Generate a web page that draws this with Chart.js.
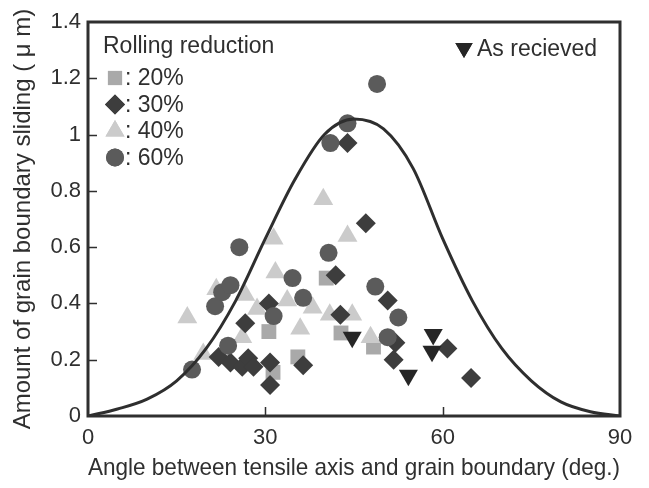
<!DOCTYPE html>
<html>
<head>
<meta charset="utf-8">
<script src="https://cdn.jsdelivr.net/npm/chart.js@4"></script>
<style>
  html, body { margin: 0; padding: 0; background: #fff; }
  #wrap { width: 649px; height: 488px; }
</style>
</head>
<body>
<div id="wrap"><canvas id="chart" width="649" height="488"></canvas></div>
<script>
// values
const xTicks = [0, 30, 60, 90];
const yTicks = [0, 0.2, 0.4, 0.6, 0.8, 1, 1.2, 1.4];

const sq20X = [30.6, 31.3, 35.5, 40.3, 42.8, 48.3];
const sq20Y = [0.30, 0.155, 0.21, 0.49, 0.295, 0.245];

const dia30X = [22.1, 24.1, 26.1, 27.1, 28.0, 26.6, 30.6, 30.8, 30.8, 36.4, 41.9, 42.7, 43.9, 47.0, 50.7, 52.0, 51.7, 60.8, 64.8];
const dia30Y = [0.21, 0.19, 0.175, 0.205, 0.175, 0.33, 0.40, 0.19, 0.11, 0.18, 0.50, 0.36, 0.97, 0.685, 0.41, 0.26, 0.20, 0.24, 0.135];

const tri40X = [16.8, 19.5, 21.7, 26.6, 28.6, 26.1, 31.4, 31.7, 33.7, 35.9, 38.0, 39.8, 40.9, 43.9, 44.7, 47.8];
const tri40Y = [0.35, 0.22, 0.45, 0.43, 0.38, 0.28, 0.63, 0.51, 0.41, 0.31, 0.385, 0.77, 0.36, 0.64, 0.36, 0.28];

const cir60X = [17.6, 21.5, 22.7, 24.1, 23.7, 25.6, 31.4, 34.6, 36.4, 40.7, 41.0, 43.9, 48.9, 48.6, 52.5, 50.7];
const cir60Y = [0.165, 0.39, 0.44, 0.465, 0.25, 0.60, 0.355, 0.49, 0.42, 0.58, 0.97, 1.04, 1.18, 0.46, 0.35, 0.28];

const recvX = [44.7, 54.2, 58.4, 58.2];
const recvY = [0.28, 0.145, 0.29, 0.23];

const curveX = [0, 5, 10, 15, 20, 25, 30, 35, 40, 45, 50, 55, 60, 65, 70, 75, 80, 85, 90];
const curveY = [0, 0.025, 0.06, 0.125, 0.24, 0.41, 0.63, 0.84, 1.0, 1.055, 1.02, 0.88, 0.63, 0.41, 0.24, 0.125, 0.05, 0.015, 0];

const legendItems = [
    { label: ': 20%', style: 'rect', color: '#a9a9a9', r: 10 },
    { label: ': 30%', style: 'rectRot', color: '#3d3d3d', r: 10 },
    { label: ': 40%', style: 'triangle', color: '#cbcbcb', r: 11 },
    { label: ': 60%', style: 'circle', color: '#5b5b5b', r: 9 }
];

function pairs(xs, ys) {
    return xs.map((x, i) => ({ x: x, y: ys[i] }));
}

const FONT = 'Arial, "Liberation Sans", sans-serif';
const INK = '#2f2f2f';

// frame, inward tick marks and the legend block
const decorPlugin = {
    id: 'decor',
    afterDraw(chart) {
        const ctx = chart.ctx;
        const a = chart.chartArea;
        const xs = chart.scales.x;
        const ys = chart.scales.y;
        ctx.save();
        ctx.strokeStyle = INK;
        ctx.lineWidth = 3;
        ctx.strokeRect(a.left, a.top, a.right - a.left, a.bottom - a.top);

        ctx.lineWidth = 1.5;
        ctx.beginPath();
        yTicks.slice(1, -1).forEach(v => {
            const py = Math.round(ys.getPixelForValue(v)) + 0.5;
            ctx.moveTo(a.left, py);
            ctx.lineTo(a.left + 9, py);
        });
        xTicks.slice(1, -1).forEach(v => {
            const px = Math.round(xs.getPixelForValue(v)) + 0.5;
            ctx.moveTo(px, a.bottom);
            ctx.lineTo(px, a.bottom - 9);
        });
        ctx.stroke();

        // legend
        ctx.font = '23px ' + FONT;
        ctx.fillStyle = INK;
        ctx.textBaseline = 'middle';
        ctx.textAlign = 'left';
        ctx.fillText('Rolling reduction', a.left + 15, 47);
        legendItems.forEach((it, i) => {
            const cy = 78 + i * 26.5;
            ctx.fillStyle = it.color;
            Chart.helpers.drawPoint(ctx, { pointStyle: it.style, radius: it.r, rotation: 0, borderWidth: 0 }, a.left + 27, cy);
            ctx.fill();
            ctx.fillStyle = INK;
            ctx.fillText(it.label, a.left + 37, cy + 1);
        });

        ctx.fillStyle = '#262626';
        Chart.helpers.drawPoint(ctx, { pointStyle: 'triangle', radius: 10, rotation: 180, borderWidth: 0 }, 464, 48);
        ctx.fill();
        ctx.fillStyle = INK;
        ctx.font = '23px ' + FONT;
        ctx.fillText('As recieved', 477, 50);
        ctx.restore();
    }
};

const ctx = document.getElementById('chart').getContext('2d');
new Chart(ctx, {
    type: 'scatter',
    data: {
        datasets: [
            {
                type: 'line',
                label: 'curve',
                data: pairs(curveX, curveY),
                borderColor: '#2e2e2e',
                borderWidth: 3,
                pointRadius: 0,
                fill: false,
                cubicInterpolationMode: 'monotone'
            },
            {
                label: 'As recieved',
                data: pairs(recvX, recvY),
                pointStyle: 'triangle',
                rotation: 180,
                pointRadius: 11,
                backgroundColor: '#262626',
                borderWidth: 0
            },
            {
                label: '60%',
                data: pairs(cir60X, cir60Y),
                pointStyle: 'circle',
                pointRadius: 9,
                backgroundColor: '#5b5b5b',
                borderWidth: 0
            },
            {
                label: '30%',
                data: pairs(dia30X, dia30Y),
                pointStyle: 'rectRot',
                pointRadius: 10,
                backgroundColor: '#3d3d3d',
                borderWidth: 0
            },
            {
                label: '40%',
                data: pairs(tri40X, tri40Y),
                pointStyle: 'triangle',
                pointRadius: 11.5,
                backgroundColor: '#cbcbcb',
                borderWidth: 0
            },
            {
                label: '20%',
                data: pairs(sq20X, sq20Y),
                pointStyle: 'rect',
                pointRadius: 10.5,
                backgroundColor: '#a9a9a9',
                borderWidth: 0
            }
        ]
    },
    options: {
        responsive: false,
        animation: false,
        layout: { padding: { top: 22, right: 29, left: 0, bottom: 0 } },
        plugins: {
            legend: { display: false },
            tooltip: { enabled: false }
        },
        scales: {
            x: {
                type: 'linear',
                min: 0,
                max: 90,
                afterBuildTicks: s => { s.ticks = xTicks.map(v => ({ value: v })); },
                afterFit: s => { s.height = 72; },
                grid: { display: false, drawTicks: false },
                border: { display: false },
                ticks: { color: INK, font: { family: FONT, size: 22 }, padding: 9, maxRotation: 0 },
                title: {
                    display: true,
                    text: 'Angle between tensile axis and grain boundary (deg.)',
                    color: INK,
                    font: { family: FONT, size: 24 },
                    padding: { top: 0, bottom: 5 }
                }
            },
            y: {
                type: 'linear',
                min: 0,
                max: 1.4,
                afterBuildTicks: s => { s.ticks = yTicks.map(v => ({ value: v })); },
                afterFit: s => { s.width = 88; },
                grid: { display: false, drawTicks: false },
                border: { display: false },
                ticks: {
                    color: INK,
                    font: { family: FONT, size: 22 },
                    padding: 7,
                    callback: v => String(v)
                },
                title: {
                    display: true,
                    text: 'Amount of grain boundary sliding ( \u03bc m)',
                    color: INK,
                    font: { family: FONT, size: 24 },
                    padding: { top: 9, bottom: 0 }
                }
            }
        }
    },
    plugins: [decorPlugin]
});
</script>
</body>
</html>
